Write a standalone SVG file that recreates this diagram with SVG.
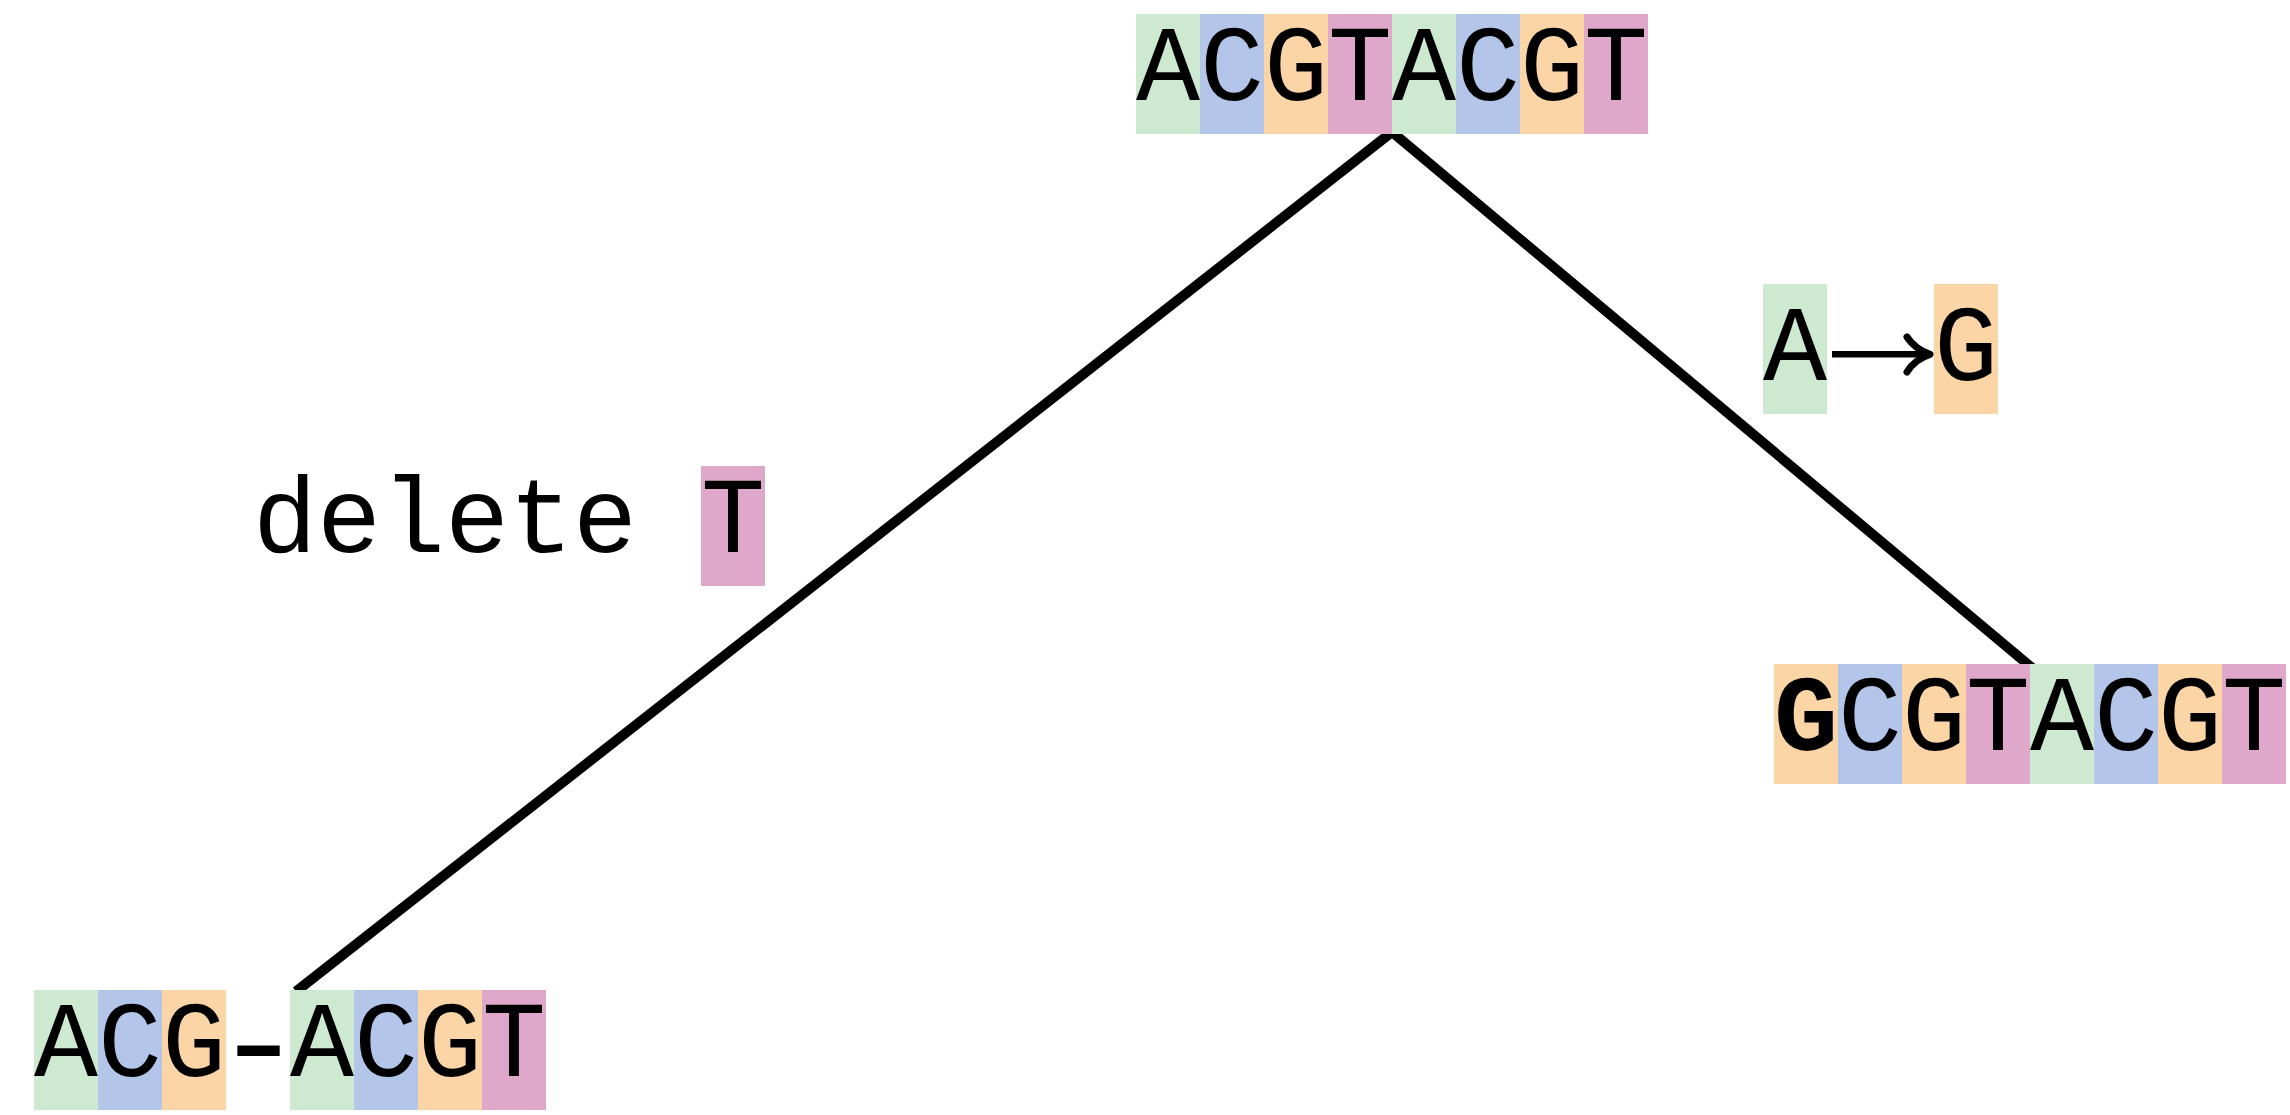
<svg xmlns="http://www.w3.org/2000/svg" width="2290" height="1115" viewBox="0 0 2290 1115">
<style>
.A{fill:#cde9d0}.C{fill:#b3c5e8}.G{fill:#fcd5a6}.T{fill:#dfa8cb}
.seq{font-family:"Liberation Mono","Courier New",monospace;font-size:106.67px;fill:#000}
.b{font-weight:bold}
.edge{fill:none;stroke:#000;stroke-width:10;stroke-linejoin:miter}
</style>
<g id="connectors">
<polyline class="edge" points="296,991.5 1392,132 2037,672"/>
</g>
<g id="root">
<rect class="A" x="1136" y="14" width="64" height="120"/>
<rect class="C" x="1200" y="14" width="64" height="120"/>
<rect class="G" x="1264" y="14" width="64" height="120"/>
<rect class="T" x="1328" y="14" width="64" height="120"/>
<rect class="A" x="1392" y="14" width="64" height="120"/>
<rect class="C" x="1456" y="14" width="64" height="120"/>
<rect class="G" x="1520" y="14" width="64" height="120"/>
<rect class="T" x="1584" y="14" width="64" height="120"/>
<text class="seq" x="1136" y="100">ACGTACGT</text>
</g>
<g id="mutation-label">
<rect class="A" x="1763" y="284" width="64" height="130"/>
<rect class="G" x="1934" y="284" width="64" height="130"/>
<text class="seq" x="1763" y="380">A</text>
<text class="seq" x="1934" y="380">G</text>
<line x1="1832" y1="354.3" x2="1926" y2="354.3" stroke="#000" stroke-width="6.5"/>
<path d="M1907,337 C1913,346 1920,351 1930,354.3 C1920,357.5 1913,362 1907,372" fill="none" stroke="#000" stroke-width="7" stroke-linecap="round" stroke-linejoin="round"/>
</g>
<g id="deletion-label">
<rect class="T" x="701" y="466" width="64" height="120"/>
<text class="seq" x="253" y="552">delete T</text>
</g>
<g id="right-child">
<rect class="G" x="1774" y="664" width="64" height="120"/>
<rect class="C" x="1838" y="664" width="64" height="120"/>
<rect class="G" x="1902" y="664" width="64" height="120"/>
<rect class="T" x="1966" y="664" width="64" height="120"/>
<rect class="A" x="2030" y="664" width="64" height="120"/>
<rect class="C" x="2094" y="664" width="64" height="120"/>
<rect class="G" x="2158" y="664" width="64" height="120"/>
<rect class="T" x="2222" y="664" width="64" height="120"/>
<text class="seq" x="1774" y="750"><tspan class="b">G</tspan>CGTACGT</text>
</g>
<g id="left-child">
<rect class="A" x="34" y="990" width="64" height="120"/>
<rect class="C" x="98" y="990" width="64" height="120"/>
<rect class="G" x="162" y="990" width="64" height="120"/>
<rect class="A" x="290" y="990" width="64" height="120"/>
<rect class="C" x="354" y="990" width="64" height="120"/>
<rect class="G" x="418" y="990" width="64" height="120"/>
<rect class="T" x="482" y="990" width="64" height="120"/>
<text class="seq" x="34" y="1076">ACG</text>
<text class="seq b" x="0" y="0" text-anchor="middle" transform="translate(258.5,1078) scale(0.9,1)">–</text>
<text class="seq" x="290" y="1076">ACGT</text>
</g>
</svg>
